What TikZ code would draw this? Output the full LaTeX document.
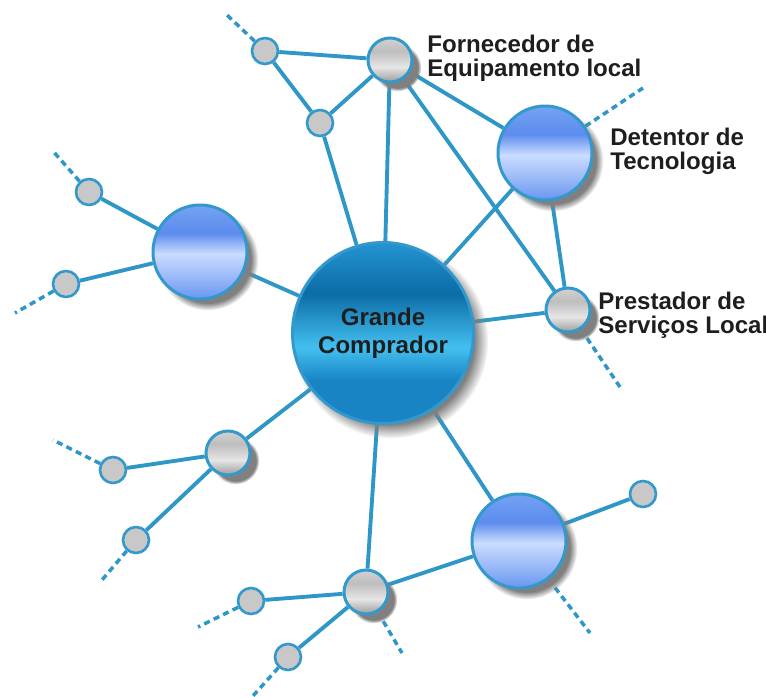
\documentclass[tikz,border=0pt]{standalone}
\usepackage{fontspec}
\setmainfont{Liberation Sans}
\usepackage{tikz}
\usetikzlibrary{shadows, backgrounds}
\definecolor{linkblue}{HTML}{2E97C7}
\definecolor{rimblue}{HTML}{3399CC}
\definecolor{hubdark}{HTML}{0C6CA6}
\definecolor{hubmid}{HTML}{1884C4}
\definecolor{hubtop}{HTML}{2494D2}
\definecolor{hublight}{HTML}{44C0F0}
\definecolor{techtop}{HTML}{74A2F2}
\definecolor{techdark}{HTML}{5C8CEE}
\definecolor{techlight}{HTML}{CADCFF}
\definecolor{techlow}{HTML}{9FBDF8}
\definecolor{techbot}{HTML}{6896F0}
\definecolor{greytop}{HTML}{D2D2D2}
\definecolor{greymid}{HTML}{BEBEBE}
\definecolor{greylight}{HTML}{E6E6E6}
\definecolor{greybot}{HTML}{9C9C9C}
\definecolor{leafgrey}{HTML}{C8C8C8}
\definecolor{inkgrey}{HTML}{1E1E1E}

% vertical gradients for the three kinds of bubbles (25bp..75bp = node box)
\pgfdeclareverticalshading{hubshade}{100bp}{color(0bp)=(hubmid); color(25bp)=(hubmid);
  color(37bp)=(hubmid); color(46bp)=(hublight); color(61bp)=(hubdark);
  color(75bp)=(hubtop); color(100bp)=(hubtop)}
\pgfdeclareverticalshading{techshade}{100bp}{color(0bp)=(techbot); color(25bp)=(techbot);
  color(38bp)=(techlow); color(49bp)=(techlight); color(60bp)=(techdark);
  color(75bp)=(techtop); color(100bp)=(techtop)}
\pgfdeclareverticalshading{greyshade}{100bp}{color(0bp)=(greybot); color(25bp)=(greybot);
  color(42bp)=(greylight); color(60bp)=(greymid); color(75bp)=(greytop);
  color(100bp)=(greytop)}

\begin{document}
\begin{tikzpicture}[
  bubble/.style={circle, draw=rimblue, line width=1.7pt, inner sep=0pt, shade,
                 circular drop shadow={shadow xshift=0.14cm, shadow yshift=-0.14cm,
                 shadow scale=1.08, opacity=1}},
  hub/.style={bubble, shading=hubshade, minimum size=3.62cm, align=center,
              text=inkgrey, font=\fontsize{13.7}{15.9}\selectfont\bfseries},
  tech/.style={bubble, shading=techshade, minimum size=1.88cm},
  partner/.style={bubble, shading=greyshade, minimum size=0.88cm},
  leaf/.style={circle, draw=rimblue, line width=1.5pt, fill=leafgrey,
               inner sep=0pt, minimum size=0.52cm},
  tag/.style={anchor=west, align=left, inner sep=0pt, text=inkgrey,
              font=\fontsize{13.7}{13.7}\selectfont\bfseries},
  link/.style={draw=linkblue, line width=2.2pt},
  stub/.style={draw=linkblue, line width=2pt, dash pattern=on 3.5pt off 2.5pt}
]
\useasboundingbox (-7.66,-7.28) rectangle (7.66,6.66);

% main actors
\node[hub] (buyer) at (0,0) {Grande\\Comprador};
\node[partner] (supplier) at (0.14,5.46) {};
\node[tech] (holder) at (3.24,3.60) {};
\node[partner] (provider) at (3.70,0.46) {};
\node[tech] (techW) at (-3.66,1.62) {};
\node[tech] (techS) at (2.72,-4.16) {};
\node[partner] (partW) at (-3.10,-2.40) {};
\node[partner] (partS) at (-0.34,-5.18) {};

% outer leaves
\node[leaf] (l1) at (-2.36,5.64) {};
\node[leaf] (l2) at (-1.26,4.20) {};
\node[leaf] (l3) at (-5.88,2.82) {};
\node[leaf] (l4) at (-6.34,0.98) {};
\node[leaf] (l5) at (-5.40,-2.74) {};
\node[leaf] (l6) at (-4.94,-4.14) {};
\node[leaf] (l7) at (-2.64,-5.36) {};
\node[leaf] (l8) at (-1.90,-6.48) {};
\node[leaf] (l9) at (5.20,-3.22) {};

% loose ends of the network
\coordinate (e1) at (-3.12,6.36);
\coordinate (e2) at (5.20,4.90);
\coordinate (e3) at (4.78,-1.14);
\coordinate (e4) at (-6.62,3.66);
\coordinate (e5) at (-7.36,0.40);
\coordinate (e6) at (-6.60,-2.14);
\coordinate (e7) at (-5.62,-4.94);
\coordinate (e8) at (4.14,-6.00);
\coordinate (e9) at (0.38,-6.40);
\coordinate (e10) at (-3.70,-5.88);
\coordinate (e11) at (-2.62,-7.28);

% labels
\node[tag] at (0.88,5.50) {Fornecedor de\\Equipamento local};
\node[tag] at (4.54,3.64) {Detentor de\\Tecnologia};
\node[tag] at (4.30,0.36) {Prestador de\\Serviços Local};

\begin{scope}[on background layer]
  \foreach \a/\b in {buyer/supplier, buyer/l2, buyer/holder, buyer/provider,
                     buyer/techW, buyer/partW, buyer/partS, buyer/techS,
                     supplier/l1, supplier/l2, l1/l2, supplier/holder,
                     supplier/provider, holder/provider,
                     techW/l3, techW/l4, partW/l5, partW/l6,
                     partS/l7, partS/l8, partS/techS, techS/l9}
    \draw[link] (\a) -- (\b);
  \foreach \a/\b in {l1/e1, holder/e2, provider/e3, l3/e4, l4/e5, l5/e6,
                     l6/e7, techS/e8, partS/e9, l7/e10, l8/e11}
    \draw[stub] (\a) -- (\b);
\end{scope}
\end{tikzpicture}
\end{document}
